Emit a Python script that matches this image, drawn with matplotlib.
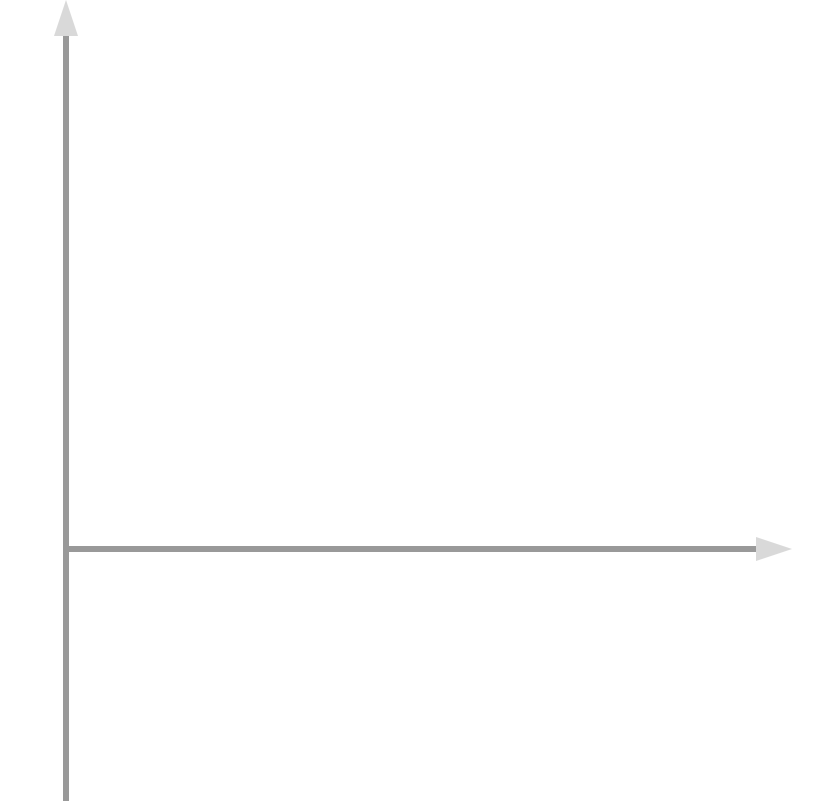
import matplotlib
matplotlib.use("Agg")
import matplotlib.pyplot as plt
from matplotlib.patches import Polygon

W, H, DPI = 834, 801, 100
fig = plt.figure(figsize=(W / DPI, H / DPI), dpi=DPI)
ax = fig.add_axes([0, 0, 1, 1])
ax.set_xlim(0, W)
ax.set_ylim(H, 0)
ax.axis("off")

line_color = "#999999"
head_color = "#d9d9d9"
lw = 6 * 72 / DPI

# origin of the axes cross (pixel layout)
ox, oy = 66, 549
# vertical axis
ax.plot([ox, ox], [H + 2, 36], color=line_color, lw=lw, solid_capstyle="butt")
ax.add_patch(Polygon([[ox - 12, 36], [ox + 12, 36], [ox, 0]], closed=True,
                     facecolor=head_color, edgecolor="none"))
# horizontal axis
ax.plot([ox, 756], [oy, oy], color=line_color, lw=lw, solid_capstyle="butt")
ax.add_patch(Polygon([[756, oy - 12], [756, oy + 12], [792, oy]], closed=True,
                     facecolor=head_color, edgecolor="none"))

fig.savefig("out.png", dpi=DPI)
